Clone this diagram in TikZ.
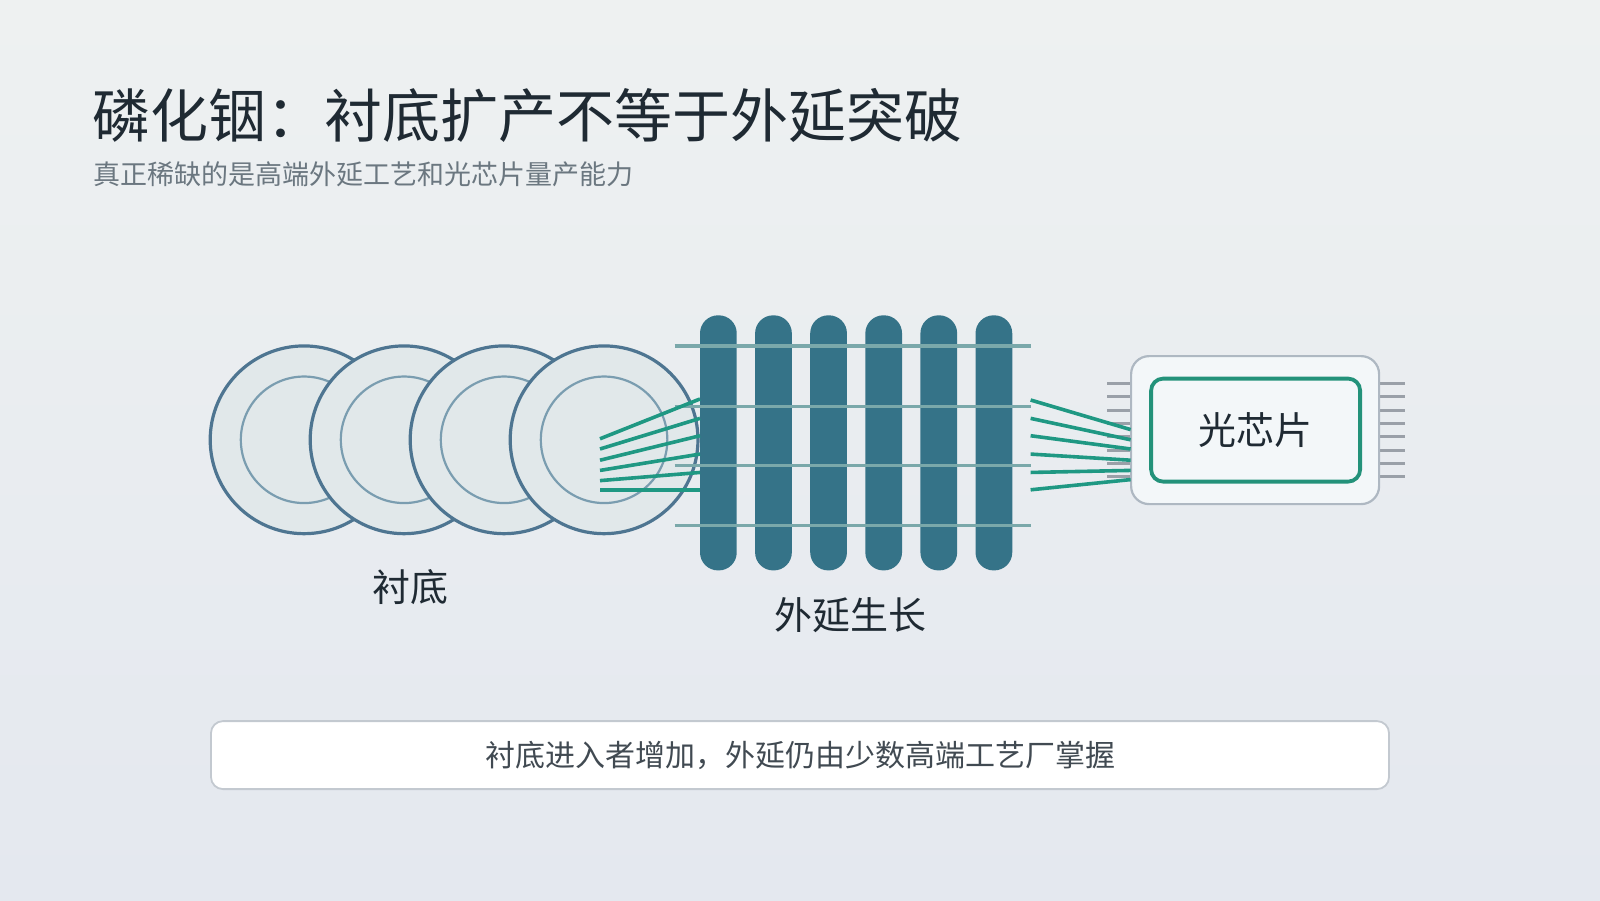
\documentclass[tikz,border=0pt]{standalone}
\usepackage{fontspec}
\setmainfont{Noto Sans CJK SC}
\begin{document}
\begin{tikzpicture}[x=0.5102pt,y=-0.5102pt,
  wafer/.style={draw=waferedge,line width=1.6pt,fill=waferfill},
  waferin/.style={draw=waferin,line width=1.1pt},
  fiber/.style={draw=fibergreen,line width=1.8pt},
  rail/.style={draw=railc,line width=1.6pt},
  bar/.style={fill=barc,rounded corners=9pt},
  pin/.style={draw=pinc,line width=1.5pt},
  lbl/.style={text=textdark,font=\fontsize{19pt}{21pt}\selectfont}]
\definecolor{bgtop}{HTML}{EEF1F1}\definecolor{bgbot}{HTML}{E4E8EF}
\definecolor{waferedge}{HTML}{4E7591}\definecolor{waferfill}{HTML}{E1E8EA}
\definecolor{waferin}{HTML}{7A9DB0}\definecolor{fibergreen}{HTML}{1F9883}
\definecolor{railc}{HTML}{7AA8AA}\definecolor{barc}{HTML}{357388}
\definecolor{pinc}{HTML}{9AA0A8}\definecolor{textdark}{HTML}{1F2A33}
\definecolor{subc}{HTML}{6B7780}\definecolor{chipedge}{HTML}{AEB8C2}
\definecolor{chipfill}{HTML}{F3F7F9}\definecolor{chipgreen}{HTML}{23927A}
\definecolor{boxedge}{HTML}{C3C9D0}
\useasboundingbox (0,0) rectangle (1568,882);
\shade[top color=bgtop,bottom color=bgbot] (0,0) rectangle (1568,882);
\node[anchor=base west,text=textdark,font=\fontsize{29pt}{32pt}\selectfont,inner sep=0] (title) at (90,135) {磷化铟：衬底扩产不等于外延突破};
\node[anchor=base west,text=subc,font=\fontsize{13.5pt}{16pt}\selectfont,inner sep=0] (sub) at (91,181) {真正稀缺的是高端外延工艺和光芯片量产能力};
% wafers
\foreach \cx/\n in {298/a,396/b,494/c,592/d}{
  \draw[wafer] (\cx,431) circle[radius=92];
  \draw[waferin] (\cx,431) circle[radius=62];
  \coordinate (w\n) at (\cx,431);
}
\node[lbl] (lsub) at (402,575) {衬底};
% bars
\foreach \bx in {704,758,812,866,920,974}{
  \fill[bar] (\bx-18,309) rectangle (\bx+18,559);
}
\foreach \ry in {339,398,456,515}{ \draw[rail] (661,\ry) -- (1010,\ry); }
% fibers left
\foreach \ya/\yb in {430/391,440/410,451/427,461/445,471/463,480/480}{
  \draw[fiber] (588,\ya) -- (686,\yb);
}
\node[lbl] (lepi) at (833,603) {外延生长};
% chip
\foreach \py in {376,389,402,415,428,441,454,467}{
  \draw[pin] (1085,\py) -- (1108,\py);
  \draw[pin] (1352,\py) -- (1377,\py);
}
\node[draw=chipedge,line width=1.1pt,fill=chipfill,rounded corners=9pt,minimum width=124pt,minimum height=74pt,inner sep=0] (chip) at (1230,421.5) {};
\node[draw=chipgreen,line width=1.9pt,fill=chipfill,rounded corners=6pt,minimum width=104.5pt,minimum height=51.5pt,inner sep=0,lbl] (core) at (1230.5,421.5) {光芯片};
\foreach \ya/\yb in {392/421,410/431,427/440,445/451,463/461,480/470}{
  \draw[fiber] (1010,\ya) -- (1108,\yb);
}
% bottom box
\node[draw=boxedge,line width=0.9pt,fill=white,rounded corners=6pt,minimum width=589pt,minimum height=34pt,inner sep=0,text=textdark!85,font=\fontsize{15pt}{17pt}\selectfont] (note) at (784,740) {衬底进入者增加，外延仍由少数高端工艺厂掌握};
\end{tikzpicture}
\end{document}
